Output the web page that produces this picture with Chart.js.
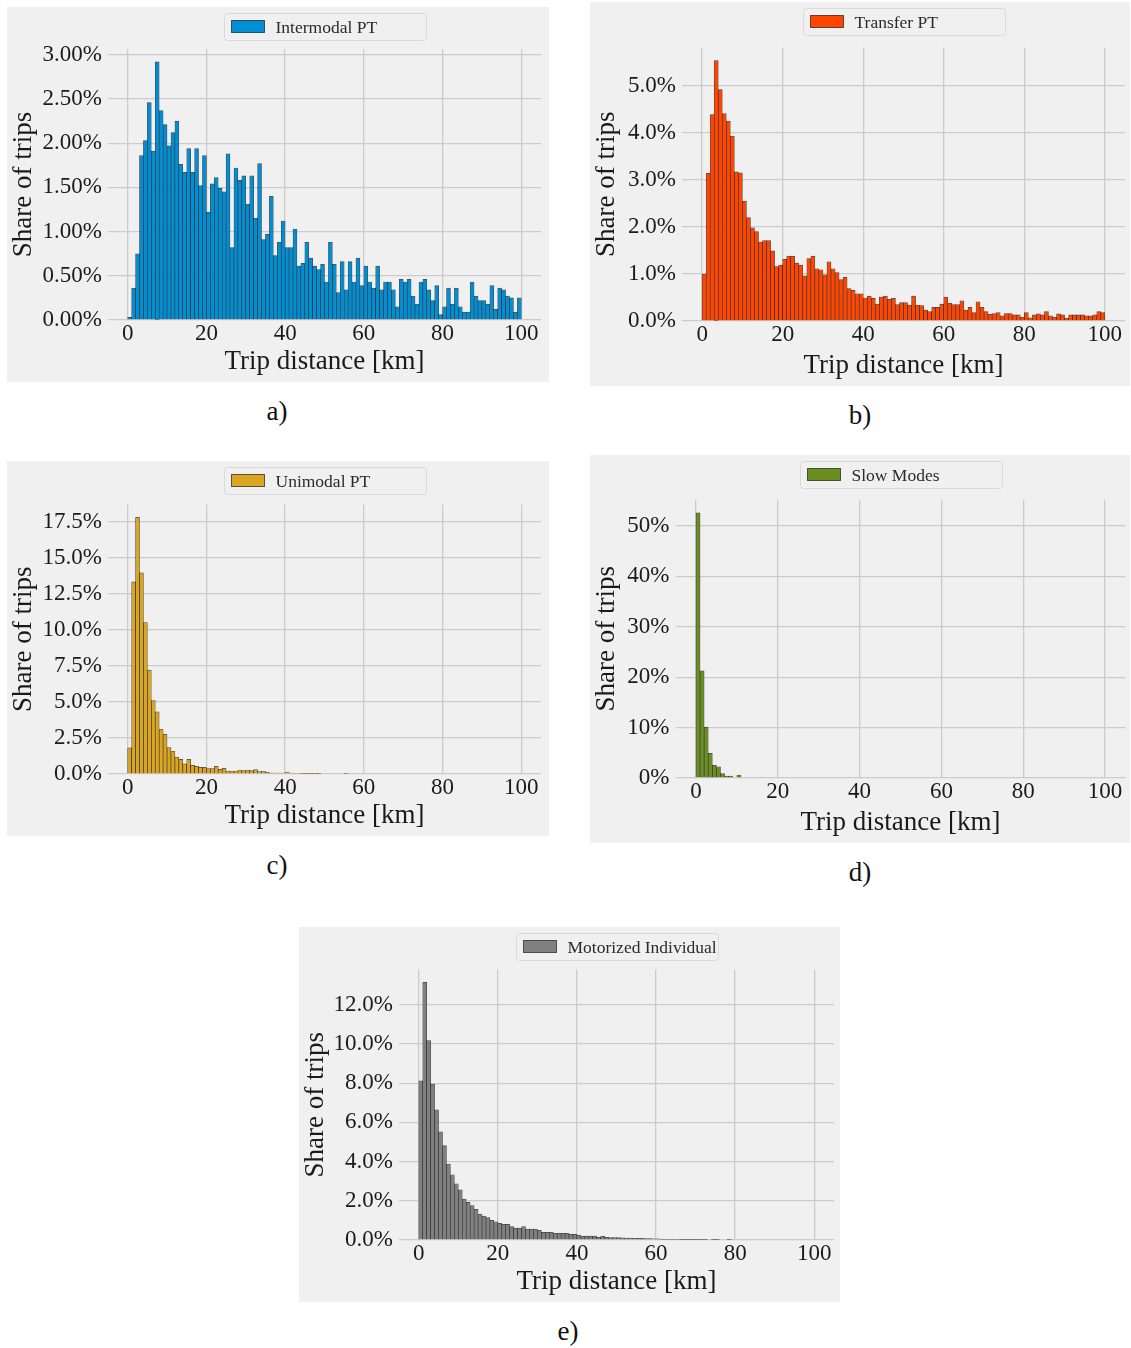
<!DOCTYPE html>
<html>
<head>
<meta charset="utf-8">
<script src="https://cdn.jsdelivr.net/npm/chart.js@4.4.1/dist/chart.umd.min.js"></script>
<style>
  body { margin: 0; background: #fff; width: 1131px; height: 1348px; position: relative; overflow: hidden; }
  .panel { position: absolute; background: #f0f0f0; }
  .caption { position: absolute; font-family: 'Liberation Serif', serif; font-size: 27px; color: #111; transform: translateX(-50%); }
</style>
</head>
<body>
<div class="panel" style="left:7px;top:7px;width:542px;height:375px"><canvas id="chart-intermodal" width="542" height="375"></canvas></div>
<div class="panel" style="left:590px;top:2px;width:540px;height:384px"><canvas id="chart-transfer" width="540" height="384"></canvas></div>
<div class="panel" style="left:7px;top:461px;width:542px;height:375px"><canvas id="chart-unimodal" width="542" height="375"></canvas></div>
<div class="panel" style="left:590px;top:455px;width:540px;height:388px"><canvas id="chart-slow" width="540" height="388"></canvas></div>
<div class="panel" style="left:299px;top:927px;width:541px;height:375px"><canvas id="chart-motorized" width="541" height="375"></canvas></div>

<div class="caption" style="left:277px;top:396px">a)</div>
<div class="caption" style="left:860px;top:400px">b)</div>
<div class="caption" style="left:277px;top:850px">c)</div>
<div class="caption" style="left:860px;top:857px">d)</div>
<div class="caption" style="left:568px;top:1316px">e)</div>

<script>
// Share of trips (%) per 1 km distance bin, 0-100 km
const intermodalShare = [
    0.03, 0.36, 0.75, 1.86, 2.03, 2.46, 1.91, 2.92, 2.37, 2.21,
    1.97, 2.12, 2.25, 1.76, 1.67, 1.94, 1.67, 1.94, 1.52, 1.86,
    1.22, 1.54, 1.61, 1.49, 1.45, 1.88, 0.82, 1.72, 1.58, 1.63,
    1.31, 1.63, 1.15, 1.77, 0.91, 0.97, 1.40, 0.73, 0.88, 1.12,
    0.82, 0.82, 1.03, 0.61, 0.64, 0.88, 0.70, 0.61, 0.57, 0.63,
    0.43, 0.88, 0.63, 0.31, 0.66, 0.34, 0.66, 0.43, 0.70, 0.39,
    0.61, 0.43, 0.36, 0.61, 0.34, 0.43, 0.43, 0.34, 0.15, 0.46,
    0.43, 0.46, 0.27, 0.18, 0.43, 0.46, 0.34, 0.22, 0.39, 0.06,
    0.15, 0.36, 0.18, 0.36, 0.15, 0.09, 0.09, 0.43, 0.27, 0.22,
    0.22, 0.18, 0.39, 0.12, 0.36, 0.34, 0.27, 0.25, 0.09, 0.25
];
const transferShare = [
    1.00, 3.14, 4.39, 5.54, 4.92, 4.41, 4.25, 3.93, 3.17, 3.15,
    2.55, 2.20, 1.98, 1.90, 1.68, 1.71, 1.71, 1.49, 1.16, 1.19,
    1.31, 1.38, 1.38, 1.23, 1.19, 0.96, 1.33, 1.38, 1.11, 1.09,
    0.98, 1.26, 1.11, 1.03, 0.88, 0.93, 0.69, 0.65, 0.58, 0.58,
    0.49, 0.53, 0.48, 0.36, 0.51, 0.53, 0.46, 0.48, 0.35, 0.39,
    0.39, 0.34, 0.53, 0.34, 0.33, 0.23, 0.20, 0.29, 0.29, 0.36,
    0.51, 0.38, 0.35, 0.35, 0.43, 0.23, 0.29, 0.18, 0.41, 0.29,
    0.20, 0.14, 0.16, 0.18, 0.11, 0.16, 0.16, 0.13, 0.13, 0.08,
    0.18, 0.07, 0.13, 0.15, 0.13, 0.20, 0.11, 0.08, 0.15, 0.13,
    0.06, 0.13, 0.13, 0.13, 0.13, 0.11, 0.11, 0.13, 0.20, 0.18
];
const unimodalShare = [
    1.81, 13.34, 17.82, 13.97, 10.51, 7.22, 5.10, 4.32, 3.11, 2.76,
    1.83, 1.58, 1.18, 1.02, 0.70, 1.02, 0.60, 0.53, 0.46, 0.46,
    0.37, 0.37, 0.53, 0.32, 0.39, 0.21, 0.21, 0.21, 0.28, 0.23,
    0.28, 0.23, 0.30, 0.16, 0.21, 0.12, 0.07, 0.07, 0.07, 0.07,
    0.14, 0.07, 0.05, 0.05, 0.03, 0.03, 0.02, 0.02, 0.02, 0,
    0, 0, 0, 0, 0, 0.02, 0, 0, 0, 0,
    0, 0, 0, 0, 0, 0, 0, 0, 0, 0,
    0, 0, 0, 0, 0, 0, 0, 0, 0, 0,
    0, 0, 0, 0, 0, 0, 0, 0, 0, 0,
    0, 0, 0, 0, 0, 0, 0, 0, 0, 0
];
const slowShare = [
    52.6, 21.25, 10.1, 4.9, 2.5, 2.24, 0.86, 0.4, 0.4, 0,
    0.6, 0, 0, 0, 0, 0, 0, 0, 0, 0,
    0, 0, 0, 0, 0, 0, 0, 0, 0, 0,
    0, 0, 0, 0, 0, 0, 0, 0, 0, 0,
    0, 0, 0, 0, 0, 0, 0, 0, 0, 0,
    0, 0, 0, 0, 0, 0, 0, 0, 0, 0,
    0, 0, 0, 0, 0, 0, 0, 0, 0, 0,
    0, 0, 0, 0, 0, 0, 0, 0, 0, 0,
    0, 0, 0, 0, 0, 0, 0, 0, 0, 0,
    0, 0, 0, 0, 0, 0, 0, 0, 0, 0
];
const motorizedShare = [
    8.12, 13.14, 10.17, 7.95, 6.64, 5.52, 4.82, 3.87, 3.33, 2.87,
    2.56, 2.09, 1.92, 1.75, 1.56, 1.32, 1.22, 1.14, 1.00, 0.93,
    0.85, 0.80, 0.80, 0.68, 0.61, 0.61, 0.68, 0.56, 0.56, 0.56,
    0.49, 0.39, 0.39, 0.39, 0.34, 0.34, 0.34, 0.34, 0.29, 0.29,
    0.25, 0.20, 0.20, 0.20, 0.20, 0.14, 0.19, 0.14, 0.12, 0.12,
    0.12, 0.11, 0.10, 0.10, 0.09, 0.08, 0.08, 0.07, 0.07, 0.06,
    0.06, 0.03, 0.03, 0.03, 0.03, 0.03, 0.02, 0.02, 0.02, 0.02,
    0.02, 0.02, 0.02, 0, 0.02, 0.02, 0, 0, 0.02, 0,
    0, 0, 0, 0, 0, 0, 0, 0, 0, 0,
    0, 0, 0, 0, 0, 0, 0, 0, 0, 0
];

const distanceTicks = [0, 20, 40, 60, 80, 100];
const intermodalTicks = [0, 0.5, 1.0, 1.5, 2.0, 2.5, 3.0];
const transferTicks = [0, 1, 2, 3, 4, 5];
const unimodalTicks = [0, 2.5, 5.0, 7.5, 10.0, 12.5, 15.0, 17.5];
const slowTicks = [0, 10, 20, 30, 40, 50];
const motorizedTicks = [0, 2, 4, 6, 8, 10, 12];

const fontFamily = "'Liberation Serif', serif";
const gridColor = '#cbcbcb';
const textColor = '#1a1a1a';

// Boxed legend like the matplotlib one: fixed-width frame, swatch + label
const boxedLegend = {
    id: 'boxedLegend',
    afterDraw(chart) {
        const { ctx, chartArea } = chart;
        const ds = chart.data.datasets[0];
        const w = 202, h = 27;
        const left = Math.round((chartArea.left + chartArea.right) / 2 - w / 2) + 0.5;
        const top = 6.5;
        ctx.save();
        ctx.beginPath();
        ctx.roundRect(left, top, w, h, 3);
        ctx.fillStyle = '#f0f0f0';
        ctx.fill();
        ctx.strokeStyle = '#dadada';
        ctx.lineWidth = 1;
        ctx.stroke();
        ctx.fillStyle = ds.backgroundColor;
        ctx.fillRect(left + 7, top + 7, 33, 12);
        ctx.strokeStyle = 'rgba(0,0,0,0.6)';
        ctx.strokeRect(left + 7, top + 7, 33, 12);
        ctx.fillStyle = '#2a2a2a';
        ctx.font = `17.5px ${fontFamily}`;
        ctx.textBaseline = 'middle';
        ctx.fillText(ds.label, left + 51, top + h / 2 + 1);
        ctx.restore();
    }
};

function renderHistogram(canvasId, opts) {
    const ctx = document.getElementById(canvasId).getContext('2d');
    const yMax = Math.max(...opts.values) * 1.05;
    return new Chart(ctx, {
        type: 'bar',
        data: {
            datasets: [{
                label: opts.label,
                data: opts.values.map((v, i) => ({ x: i + 0.5, y: v })),
                backgroundColor: opts.color,
                borderColor: 'rgba(0, 0, 0, 0.7)',
                borderWidth: 0.7,
                barPercentage: 1,
                categoryPercentage: 1
            }]
        },
        options: {
            responsive: false,
            animation: false,
            layout: { padding: { top: opts.padTop, right: opts.padRight, left: 0, bottom: 0 } },
            plugins: { legend: { display: false }, tooltip: { enabled: false } },
            scales: {
                x: {
                    type: 'linear',
                    min: -5,
                    max: 105,
                    offset: false,
                    afterBuildTicks: (s) => { s.ticks = distanceTicks.map(v => ({ value: v })); },
                    afterFit: (s) => { s.height = opts.xHeight; },
                    grid: { color: gridColor, lineWidth: 1.3, drawTicks: false, offset: false },
                    border: { display: false },
                    ticks: { color: textColor, padding: 0, maxRotation: 0, font: { family: fontFamily, size: 23 } },
                    title: {
                        display: true, text: 'Trip distance [km]', color: textColor,
                        padding: { top: 0, bottom: 4 }, font: { family: fontFamily, size: 27 }
                    }
                },
                y: {
                    min: 0,
                    max: yMax,
                    afterBuildTicks: (s) => { s.ticks = opts.yTicks.map(v => ({ value: v })); },
                    afterFit: (s) => { s.width = opts.yWidth; },
                    grid: { color: gridColor, lineWidth: 1.3, drawTicks: false },
                    border: { display: false },
                    ticks: {
                        color: textColor, padding: 6, font: { family: fontFamily, size: 23 },
                        callback: (v) => v.toFixed(opts.decimals) + '%'
                    },
                    title: {
                        display: true, text: 'Share of trips', color: textColor,
                        padding: { top: 1, bottom: 0 }, font: { family: fontFamily, size: 27 }
                    }
                }
            }
        },
        plugins: [boxedLegend]
    });
}

renderHistogram('chart-intermodal', {
    label: 'Intermodal PT', color: '#008fd5', values: intermodalShare,
    yTicks: intermodalTicks, decimals: 2, padTop: 42, padRight: 8, yWidth: 101, xHeight: 62
});
renderHistogram('chart-transfer', {
    label: 'Transfer PT', color: '#ff4500', values: transferShare,
    yTicks: transferTicks, decimals: 1, padTop: 45.5, padRight: 5, yWidth: 92, xHeight: 65
});
renderHistogram('chart-unimodal', {
    label: 'Unimodal PT', color: '#daa520', values: unimodalShare,
    yTicks: unimodalTicks, decimals: 1, padTop: 43.6, padRight: 8, yWidth: 101, xHeight: 62
});
renderHistogram('chart-slow', {
    label: 'Slow Modes', color: '#6b8e23', values: slowShare,
    yTicks: slowTicks, decimals: 0, padTop: 44.7, padRight: 4.5, yWidth: 85.5, xHeight: 65
});
renderHistogram('chart-motorized', {
    label: 'Motorized Individual', color: '#808080', values: motorizedShare,
    yTicks: motorizedTicks, decimals: 1, padTop: 42.5, padRight: 6, yWidth: 100, xHeight: 62
});
</script>
</body>
</html>
